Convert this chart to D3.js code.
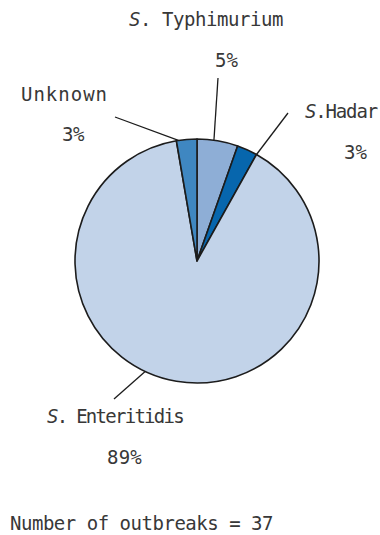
<!DOCTYPE html>
<html>
<head>
<meta charset="utf-8">
<script src="https://cdn.jsdelivr.net/npm/d3@7"></script>
<style>
  html, body { margin: 0; padding: 0; background: #fff; }
  svg { display: block; }
  text { font-family: "DejaVu Sans Mono", monospace; fill: #383838; }
</style>
</head>
<body>
<svg id="chart" width="380" height="535"></svg>
<script>
// Salmonella serovars in outbreaks (count of outbreaks)
const genusPart = ["S", "S", "S", ""];
const namePart = [". Typhimurium", ".Hadar", ". Enteritidis", "Unknown"];
const outbreaks = [2, 1, 33, 1];
const percentLabels = ["5%", "3%", "89%", "3%"];
const totalLabel = "Number of outbreaks = 37";

const colors = ["#8eaed6", "#0766ad", "#c2d3e9", "#3f87c1"];

const svg = d3.select("#chart");
const cx = 197, cy = 261, r = 122;
const fontSize = 19;

const pie = d3.pie().sort(null).value(d => d)(outbreaks);
const arc = d3.arc().innerRadius(0).outerRadius(r);

const g = svg.append("g").attr("transform", `translate(${cx},${cy})`);
g.selectAll("path")
  .data(pie)
  .join("path")
  .attr("d", arc)
  .attr("fill", (d, i) => colors[i])
  .attr("stroke", "#1c1c1c")
  .attr("stroke-width", 1.6)
  .attr("stroke-linejoin", "round");

// label placement: name left/baseline/width, percent centre/baseline/width, leader line outer end
const layout = [
  { name: [129, 26, 154], pct: [226.5, 67, 23], lineEnd: [218, 78], lean: -0.09 },
  { name: [305, 118, 72], pct: [355.5, 159, 23], lineEnd: [288, 113], lean: 0.5 },
  { name: [47, 423, 136], pct: [124.5, 464, 35], lineEnd: [114, 399], lean: 0.048 },
  { name: [21, 101, 87], pct: [73, 141, 22], lineEnd: [115, 117], lean: -0.4 }
];

// spread or tighten the letters so the text spans the wanted width
function fitWidth(sel, w, nChars) {
  const len = sel.node().getComputedTextLength();
  sel.attr("letter-spacing", ((w - len) / nChars).toFixed(2));
  return sel;
}

pie.forEach((d, i) => {
  const L = layout[i];
  // inner end of the leader line sits on the rim of the slice
  const a = d.startAngle + (d.endAngle - d.startAngle) * (0.5 + L.lean);
  const x0 = cx + r * Math.sin(a), y0 = cy - r * Math.cos(a);
  svg.append("line")
    .attr("x1", x0).attr("y1", y0)
    .attr("x2", L.lineEnd[0]).attr("y2", L.lineEnd[1])
    .attr("stroke", "#1c1c1c").attr("stroke-width", 1.3);

  // italic genus initial followed by the upright serovar name
  const [nx, ny, nw] = L.name;
  const t = svg.append("text")
    .attr("x", nx).attr("y", ny)
    .attr("font-size", fontSize);
  if (genusPart[i]) t.append("tspan").attr("font-style", "italic").text(genusPart[i]);
  t.append("tspan").text(namePart[i]);
  fitWidth(t, nw, genusPart[i].length + namePart[i].length);

  const p = svg.append("text")
    .attr("x", L.pct[0]).attr("y", L.pct[1])
    .attr("text-anchor", "middle")
    .attr("font-size", fontSize)
    .text(percentLabels[i]);
  fitWidth(p, L.pct[2], percentLabels[i].length);
});

const total = svg.append("text")
  .attr("x", 10).attr("y", 530)
  .attr("font-size", fontSize)
  .text(totalLabel);
fitWidth(total, 263, totalLabel.length);
</script>
</body>
</html>
